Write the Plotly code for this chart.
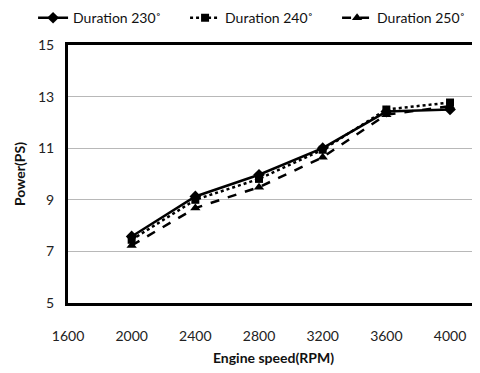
import plotly.graph_objects as go

rpm = [2000, 2400, 2800, 3200, 3600, 4000]
dur230 = [7.58, 9.13, 9.97, 11.0, 12.42, 12.5]
dur240 = [7.45, 9.0, 9.81, 10.94, 12.5, 12.77]
dur250 = [7.23, 8.68, 9.49, 10.65, 12.3, 12.63]
names = ["Duration 230˚", "Duration 240˚", "Duration 250˚"]
x_ticks = [1600, 2000, 2400, 2800, 3200, 3600, 4000]
y_ticks = [5, 7, 9, 11, 13, 15]

FONT = "Lato"
fig = go.Figure()
fig.add_trace(go.Scatter(x=rpm, y=dur230, name=names[0], mode="lines+markers",
                         line=dict(color="black", width=2.5, dash="solid"),
                         marker=dict(symbol="diamond", size=9, color="black")))
fig.add_trace(go.Scatter(x=rpm, y=dur240, name=names[1], mode="lines+markers",
                         line=dict(color="black", width=2.5, dash="dot"),
                         marker=dict(symbol="square", size=8, color="black")))
fig.add_trace(go.Scatter(x=rpm, y=dur250, name=names[2], mode="lines+markers",
                         line=dict(color="black", width=2.5, dash="dash"),
                         marker=dict(symbol="triangle-up", size=9, color="black")))

fig.update_layout(
    width=472, height=365,
    margin=dict(l=60, r=1, t=37, b=70, autoexpand=False),
    paper_bgcolor="white", plot_bgcolor="white",
    font=dict(family=FONT, size=14, color="#222"),
    legend=dict(orientation="h", x=-0.085, xanchor="left", y=1.166, yanchor="top",
                font=dict(family=FONT, size=14, color="#111"),
                itemwidth=30, entrywidth=107, entrywidthmode="pixels",
                tracegroupgap=0, bgcolor="rgba(0,0,0,0)", borderwidth=0),
    xaxis=dict(range=[1600, 4182], tickvals=x_ticks, ticktext=[str(v) for v in x_ticks],
               showgrid=False, zeroline=False, automargin=False,
               showline=True, linecolor="black", linewidth=3, mirror=True,
               ticks="", ticklabelstandoff=18,
               tickfont=dict(family=FONT, size=14, color="#222"),
               title=dict(text="<b>Engine speed(RPM)</b>", font=dict(family=FONT, size=14, color="#111"),
                          standoff=11)),
    yaxis=dict(range=[5, 15], tickvals=y_ticks, ticktext=[str(v) for v in y_ticks],
               showgrid=True, gridcolor="#b8b8b8", gridwidth=1, zeroline=False, automargin=False,
               showline=True, linecolor="black", linewidth=3,
               ticks="", ticklabelstandoff=8,
               tickfont=dict(family=FONT, size=14, color="#222"),
               title=dict(text="<b>Power(PS)</b>", font=dict(family=FONT, size=14, color="#111"),
                          standoff=10)),
    showlegend=True,
)
fig.add_shape(type="line", xref="paper", yref="paper", x0=1, x1=1, y0=0, y1=1,
              line=dict(color="#a0a0a0", width=1))

fig.write_html("out.html")
